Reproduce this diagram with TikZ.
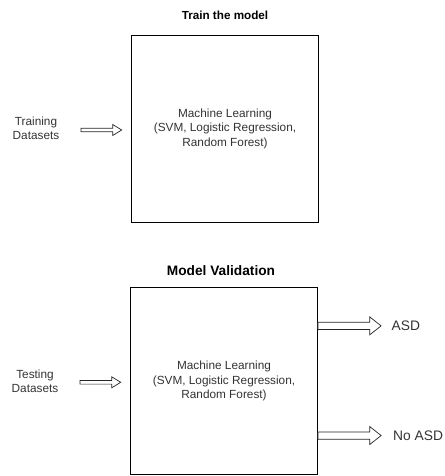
\documentclass[tikz,border=0pt]{standalone}
\usepackage{fontspec}
\setmainfont{Liberation Sans}
\usetikzlibrary{calc,positioning}

% hollow block arrow: from, to, half shaft, half head, head length
\newcommand{\blockarrow}[5]{%
  \draw[blockline] ($(#1)+(0,#3)$) -- ($(#2)+(-#5,#3)$) -- ($(#2)+(-#5,#4)$) -- (#2)
    -- ($(#2)+(-#5,-#4)$) -- ($(#2)+(-#5,-#3)$) -- ($(#1)+(0,-#3)$) -- cycle;}

\begin{document}
\begin{tikzpicture}[x=1pt,y=-1pt,
      model/.style={draw=black,line width=0.8pt,minimum width=187pt,minimum height=187pt,
        inner sep=0pt,align=center,text=black!80,font=\fontsize{11.8}{14.5}\selectfont},
      label/.style={align=center,text=black!80,font=\fontsize{11.8}{14}\selectfont},
      result/.style={anchor=west,text=black!80,font=\fontsize{13.8}{16}\selectfont},
      blockline/.style={draw=black!85,fill=white,line width=0.7pt,line join=miter}
      ]
      \useasboundingbox (0,0) rectangle (444,476);

      \begin{scope}
        \node[model] (trainbox) at (225,128.75) {Machine Learning\\(SVM, Logistic Regression,\\Random Forest)};
        \node[font=\bfseries\fontsize{11.7}{14}\selectfont] (traintitle) at (225,15.7) {Train the model};
        \node[label] (traindata) at (36,128.7) {Training\\Datasets};
        \coordinate (trainin) at (81,130);
        \coordinate (trainout) at (121.7,130);
        \blockarrow{trainin}{trainout}{1.8}{5.5}{9}
      \end{scope}

      \begin{scope}
        \node[model] (testbox) at (224,381.25) {Machine Learning\\(SVM, Logistic Regression,\\Random Forest)};
        \node[font=\bfseries\fontsize{13.7}{16}\selectfont] (testtitle) at (221,271) {Model Validation};
        \node[label] (testdata) at (35,381.7) {Testing\\Datasets};
        \coordinate (testin) at (80,382.3);
        \coordinate (testout) at (120.7,382.3);
        \blockarrow{testin}{testout}{1.8}{5.5}{9}

        \coordinate (asdin) at ($(testbox.north east)+(0,38.5)$);
        \coordinate (asdout) at ($(asdin)+(63.2,0)$);
        \blockarrow{asdin}{asdout}{3.6}{9}{11.4}
        \node[result] (asd) at ($(asdout)+(7,0)$) {ASD};

        \coordinate (noasdin) at ($(testbox.north east)+(0,148.2)$);
        \coordinate (noasdout) at ($(noasdin)+(63.2,0)$);
        \blockarrow{noasdin}{noasdout}{3.6}{9}{11.4}
        \node[result] (noasd) at ($(noasdout)+(8.5,0)$) {No ASD};
      \end{scope}
    \end{tikzpicture}
\end{document}
